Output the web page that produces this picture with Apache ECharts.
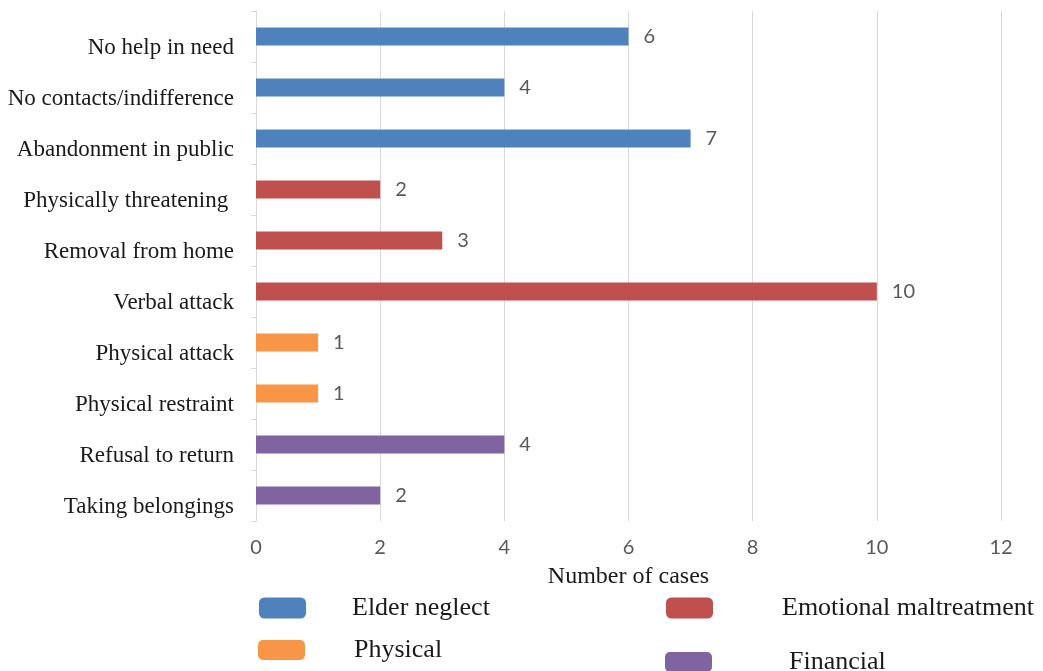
<!DOCTYPE html>
<html>
<head>
<meta charset="utf-8">
<script src="https://cdn.jsdelivr.net/npm/echarts@6/dist/echarts.min.js"></script>
<style>
  html, body { margin: 0; padding: 0; background: #fff; }
  #chart { width: 1043px; height: 671px; }
</style>
</head>
<body>
<div id="chart"></div>
<script>
  var categories = ['No help in need', 'No contacts/indifference', 'Abandonment in public',
    'Physically threatening ', 'Removal from home', 'Verbal attack',
    'Physical attack', 'Physical restraint', 'Refusal to return', 'Taking belongings'];
  var neglect   = [6, 4, 7, null, null, null, null, null, null, null];
  var emotional = [null, null, null, 2, 3, 10, null, null, null, null];
  var physical  = [null, null, null, null, null, null, 1, 1, null, null];
  var financial = [null, null, null, null, null, null, null, null, 4, 2];
  var xTicks = [0, 2, 4, 6, 8, 10, 12];

  var serif = '"Liberation Serif", "Times New Roman", serif';
  var sans = 'Lato, "Open Sans", sans-serif';

  function bar(name, data, color) {
    return {
      name: name,
      type: 'bar',
      stack: 'all',
      barWidth: 18,
      data: data,
      itemStyle: { color: color },
      label: {
        show: true,
        position: 'right',
        distance: 15,
        color: '#595959',
        fontFamily: sans,
        fontSize: 20
      }
    };
  }

  function legendAt(name, left, top, h, gap) {
    return {
      data: [name],
      left: left,
      top: top,
      padding: 0,
      itemWidth: 47,
      itemHeight: h,
      icon: 'roundRect',
      selectedMode: false,
      textStyle: {
        fontFamily: serif,
        fontSize: 26,
        color: '#1a1a1a',
        padding: [2, 0, 0, gap]
      }
    };
  }

  var chart = echarts.init(document.getElementById('chart'));
  chart.setOption({
    animation: false,
    grid: { left: 256, right: 42, top: 11, bottom: 150 },
    legend: [
      legendAt('Elder neglect', 259, 595, 21, 41),
      legendAt('Emotional maltreatment', 666, 595, 21, 64),
      legendAt('Physical', 258, 637, 20, 44),
      legendAt('Financial', 665, 649, 20, 72)
    ],
    xAxis: {
      type: 'value',
      min: xTicks[0],
      max: xTicks[xTicks.length - 1],
      interval: 2,
      name: 'Number of cases',
      nameLocation: 'middle',
      nameGap: 44,
      nameTextStyle: { fontFamily: serif, fontSize: 24, color: '#1a1a1a' },
      axisLine: { show: false },
      axisTick: { show: false },
      axisLabel: { color: '#595959', fontFamily: sans, fontSize: 20, margin: 17 },
      splitLine: { lineStyle: { color: '#d9d9d9', width: 1 } }
    },
    yAxis: {
      type: 'category',
      inverse: true,
      data: categories,
      axisLine: { lineStyle: { color: '#d9d9d9' } },
      axisTick: { show: true, length: 5, lineStyle: { color: '#d9d9d9' } },
      axisLabel: {
        color: '#1a1a1a',
        fontFamily: serif,
        fontSize: 23,
        lineHeight: 23,
        margin: 22,
        verticalAlign: 'top'
      }
    },
    series: [
      bar('Elder neglect', neglect, '#4F81BD'),
      bar('Emotional maltreatment', emotional, '#C0504D'),
      bar('Physical', physical, '#F79646'),
      bar('Financial', financial, '#8064A2')
    ]
  });
</script>
</body>
</html>
